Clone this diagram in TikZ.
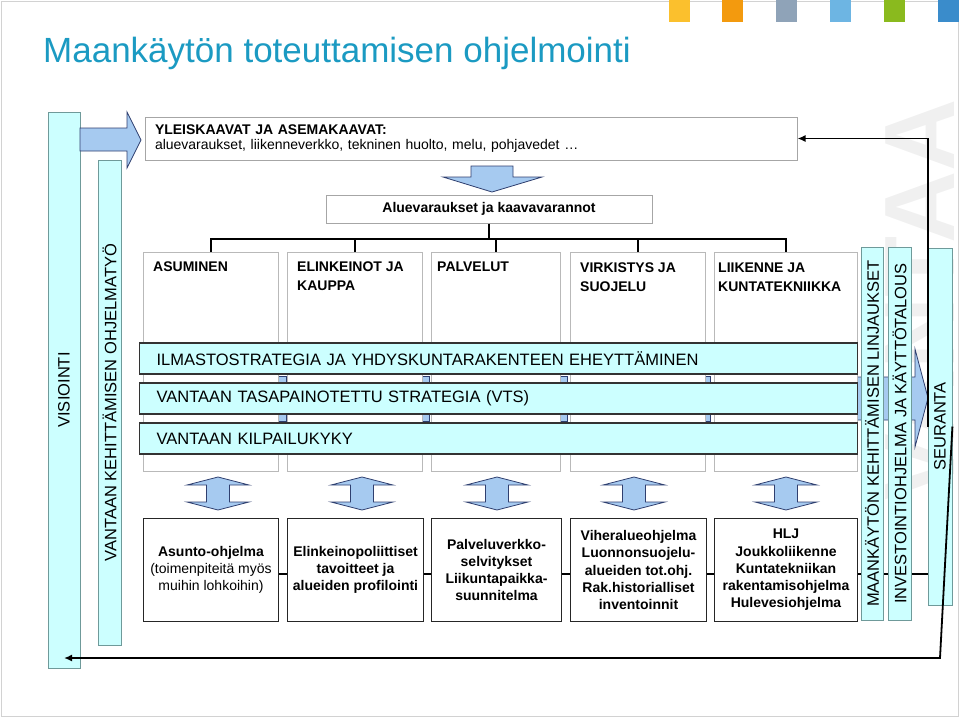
\documentclass[tikz,border=0pt]{standalone}
\usepackage{fontspec}
\setmainfont{Liberation Sans}
\usetikzlibrary{positioning, arrows.meta, backgrounds, calc}

\definecolor{titleblue}{HTML}{1B9AC2}
\definecolor{stripfill}{HTML}{CCFFFF}
\definecolor{barline}{HTML}{6F9A9A}
\definecolor{arrowfill}{HTML}{A6CAF0}
\definecolor{arrowline}{HTML}{2F3F6F}
\definecolor{sqyellow}{HTML}{FBC02D}
\definecolor{sqorange}{HTML}{F39A0E}
\definecolor{sqgray}{HTML}{8FA3B8}
\definecolor{sqlblue}{HTML}{6DB5E3}
\definecolor{sqgreen}{HTML}{8ABA1E}
\definecolor{sqblue}{HTML}{3A8CCB}

\begin{document}
\begin{tikzpicture}[x=1pt, y=-1pt,
    cat/.style={rectangle, draw=gray!55, line width=1pt, fill=white, minimum width=135pt, minimum height=219pt, inner sep=0pt},
    cattext/.style={anchor=north west, align=left, inner sep=0pt, font=\fontsize{14}{19}\selectfont\bfseries},
    prog/.style={rectangle, draw=black!85, line width=1pt, fill=white, minimum width=135pt, minimum height=103pt, inner sep=2pt, align=center, font=\fontsize{14}{17.3}\selectfont},
    progb/.style={prog, font=\fontsize{14}{17.3}\selectfont\bfseries},
    strip/.style={rectangle, draw=black!80, line width=1.2pt, fill=stripfill, minimum height=31pt, text width=684pt, inner xsep=17pt, align=left, anchor=west, font=\fontsize{16.5}{18}\selectfont},
    bar/.style={rectangle, draw=barline, line width=0.8pt, fill=stripfill, rotate=90, inner sep=0pt, font=\fontsize{16.5}{18}\selectfont},
    plain/.style={rectangle, draw=gray!70, line width=1pt, fill=white, inner sep=0pt},
    blockarr/.style={draw=arrowline, line width=0.8pt, fill=arrowfill},
    tree/.style={draw=black, line width=2pt},
    flow/.style={draw=black, line width=1.8pt, -{Latex[length=8pt, width=7pt]}},
    sq/.style={inner sep=0pt, minimum width=21pt, minimum height=22pt, anchor=north west}
]
    \useasboundingbox (0,0) rectangle (960,718);
    \draw[gray!35, line width=1pt] (1,1) rectangle (958,716);

    % header
    \foreach \c/\x in {sqyellow/669, sqorange/722, sqgray/776, sqlblue/830, sqgreen/884, sqblue/938}
        \node[sq, fill=\c] (sq-\c) at (\x,0) {};
    \node[anchor=base west, text=titleblue, font=\fontsize{35}{40}\selectfont, inner sep=0pt] (title) at (43,62) {Maankäytön toteuttamisen ohjelmointi};

    % left bars
    \node[bar, minimum width=556pt, minimum height=32pt] (visio) at (64,390) {VISIOINTI};
    \node[bar, minimum width=485pt, minimum height=23pt] (ohj) at (109.5,402.5) {VANTAAN KEHITTÄMISEN OHJELMATYÖ};

    % plans
    \node[plain, minimum width=652pt, minimum height=43pt, text width=632pt, inner xsep=10pt, align=left, font=\fontsize{14}{15.5}\selectfont] (yleis) at (471,138.5) {\textbf{YLEISKAAVAT JA ASEMAKAAVAT:}\\aluevaraukset, liikenneverkko, tekninen huolto, melu, pohjavedet …};
    \node[plain, minimum width=326pt, minimum height=28pt, font=\fontsize{14}{16}\selectfont\bfseries] (alue) at (489,209) {Aluevaraukset ja kaavavarannot};

    \draw[blockarr] (80,128) -- (127,128) -- (127,112) -- (141,140) -- (127,168) -- (127,151) -- (80,151) -- cycle;
    \draw[blockarr] (471,166) -- (513,166) -- (513,177) -- (542,177) -- (492,192) -- (443,177) -- (471,177) -- cycle;

    % sectors
    \node[cat, anchor=north west] (asum) at (143,252) {};
    \node[cat, right=8pt of asum] (elink) {};
    \node[cat, right=8pt of elink, minimum width=129pt] (palv) {};
    \node[cat, right=9pt of palv] (virk) {};
    \node[cat, right=8pt of virk, minimum width=143pt] (liik) {};

    \node[cattext] (asum-t) at ($(asum.north west)+(10,10)$) {ASUMINEN};
    \node[cattext] (elink-t) at ($(elink.north west)+(10,10)$) {ELINKEINOT JA\\KAUPPA};
    \node[cattext] (palv-t) at ($(palv.north west)+(6,10)$) {PALVELUT};
    \node[cattext] (virk-t) at ($(virk.north west)+(10,11)$) {VIRKISTYS JA\\SUOJELU};
    \node[cattext] (liik-t) at ($(liik.north west)+(4,11)$) {LIIKENNE JA\\KUNTATEKNIIKKA};

    \coordinate (hub) at (489,239);
    \draw[tree] (alue.south) -- (hub);
    \foreach \b in {asum,elink,palv,virk,liik}
        \draw[tree] (hub) -| (\b.north);

    % strategies
    \node[strip] (ilmasto) at (139,358.5) {ILMASTOSTRATEGIA JA YHDYSKUNTARAKENTEEN EHEYTTÄMINEN};
    \node[strip] (vts) at (139,398.5) {VANTAAN TASAPAINOTETTU STRATEGIA (VTS)};
    \node[strip] (kilpailu) at (139,438.5) {VANTAAN KILPAILUKYKY};

    % programmes
    \foreach \x in {218,362,497,634,786}
        \draw[blockarr] (\x,477) -- ++(31,8) -- ++(-19.5,0) -- ++(0,17) -- ++(19.5,0) -- (\x,510) -- ++(-31,-8) -- ++(19.5,0) -- ++(0,-17) -- ++(-19.5,0) -- cycle;

    \node[prog, anchor=north west] (b1) at (143,518) {\textbf{Asunto-ohjelma}\\(toimenpiteitä myös\\muihin lohkoihin)};
    \node[progb, right=8pt of b1, minimum width=136pt] (b2) {Elinkeinopoliittiset\\tavoitteet ja\\alueiden profilointi};
    \node[progb, right=7pt of b2, minimum width=130pt] (b3) {Palveluverkko-\\selvitykset\\Liikuntapaikka-\\suunnitelma};
    \node[progb, right=8pt of b3, minimum width=136pt] (b4) {Viheralueohjelma\\Luonnonsuojelu-\\alueiden tot.ohj.\\Rak.historialliset\\inventoinnit};
    \node[progb, right=7pt of b4, minimum width=143pt] (b5) {HLJ\\Joukkoliikenne\\Kuntatekniikan\\rakentamisohjelma\\Hulevesiohjelma};

    % right bars
    \node[bar, minimum width=373pt, minimum height=22pt] (linjaus) at (872,433.5) {MAANKÄYTÖN KEHITTÄMISEN LINJAUKSET};
    \node[bar, minimum width=373pt, minimum height=23pt] (invest) at (899.5,433.5) {INVESTOINTIOHJELMA JA KÄYTTÖTALOUS};
    \node[bar, minimum width=357pt, minimum height=24pt] (seuranta) at (940,426.5) {SEURANTA};

    % feedback loop
    \draw[flow] (seuranta.north) |- (yleis.east);
    \coordinate (fb) at (940,658);
    \draw[flow] (seuranta.south) -- (fb) -- (visio.east |- fb);

    \begin{pgfonlayer}{background}
        \node[rotate=90, text=gray!12, font=\fontsize{100}{100}\selectfont\bfseries, inner sep=0pt] (mark) at (920,300) {VANTAA};
        \draw[blockarr] (850,377) -- (915,377) -- (915,349) -- (928,398) -- (915,447) -- (915,420) -- (850,420) -- cycle;
        \foreach \x in {282,425,563,706}
            \draw[blockarr, line width=0.6pt] (\x-4,376) rectangle (\x+4,421);
        \coordinate (lineL) at ($(b1.east)+(0,4)$);
        \draw[flow] (lineL) -- (seuranta.west |- lineL);
    \end{pgfonlayer}
\end{tikzpicture}
\end{document}
